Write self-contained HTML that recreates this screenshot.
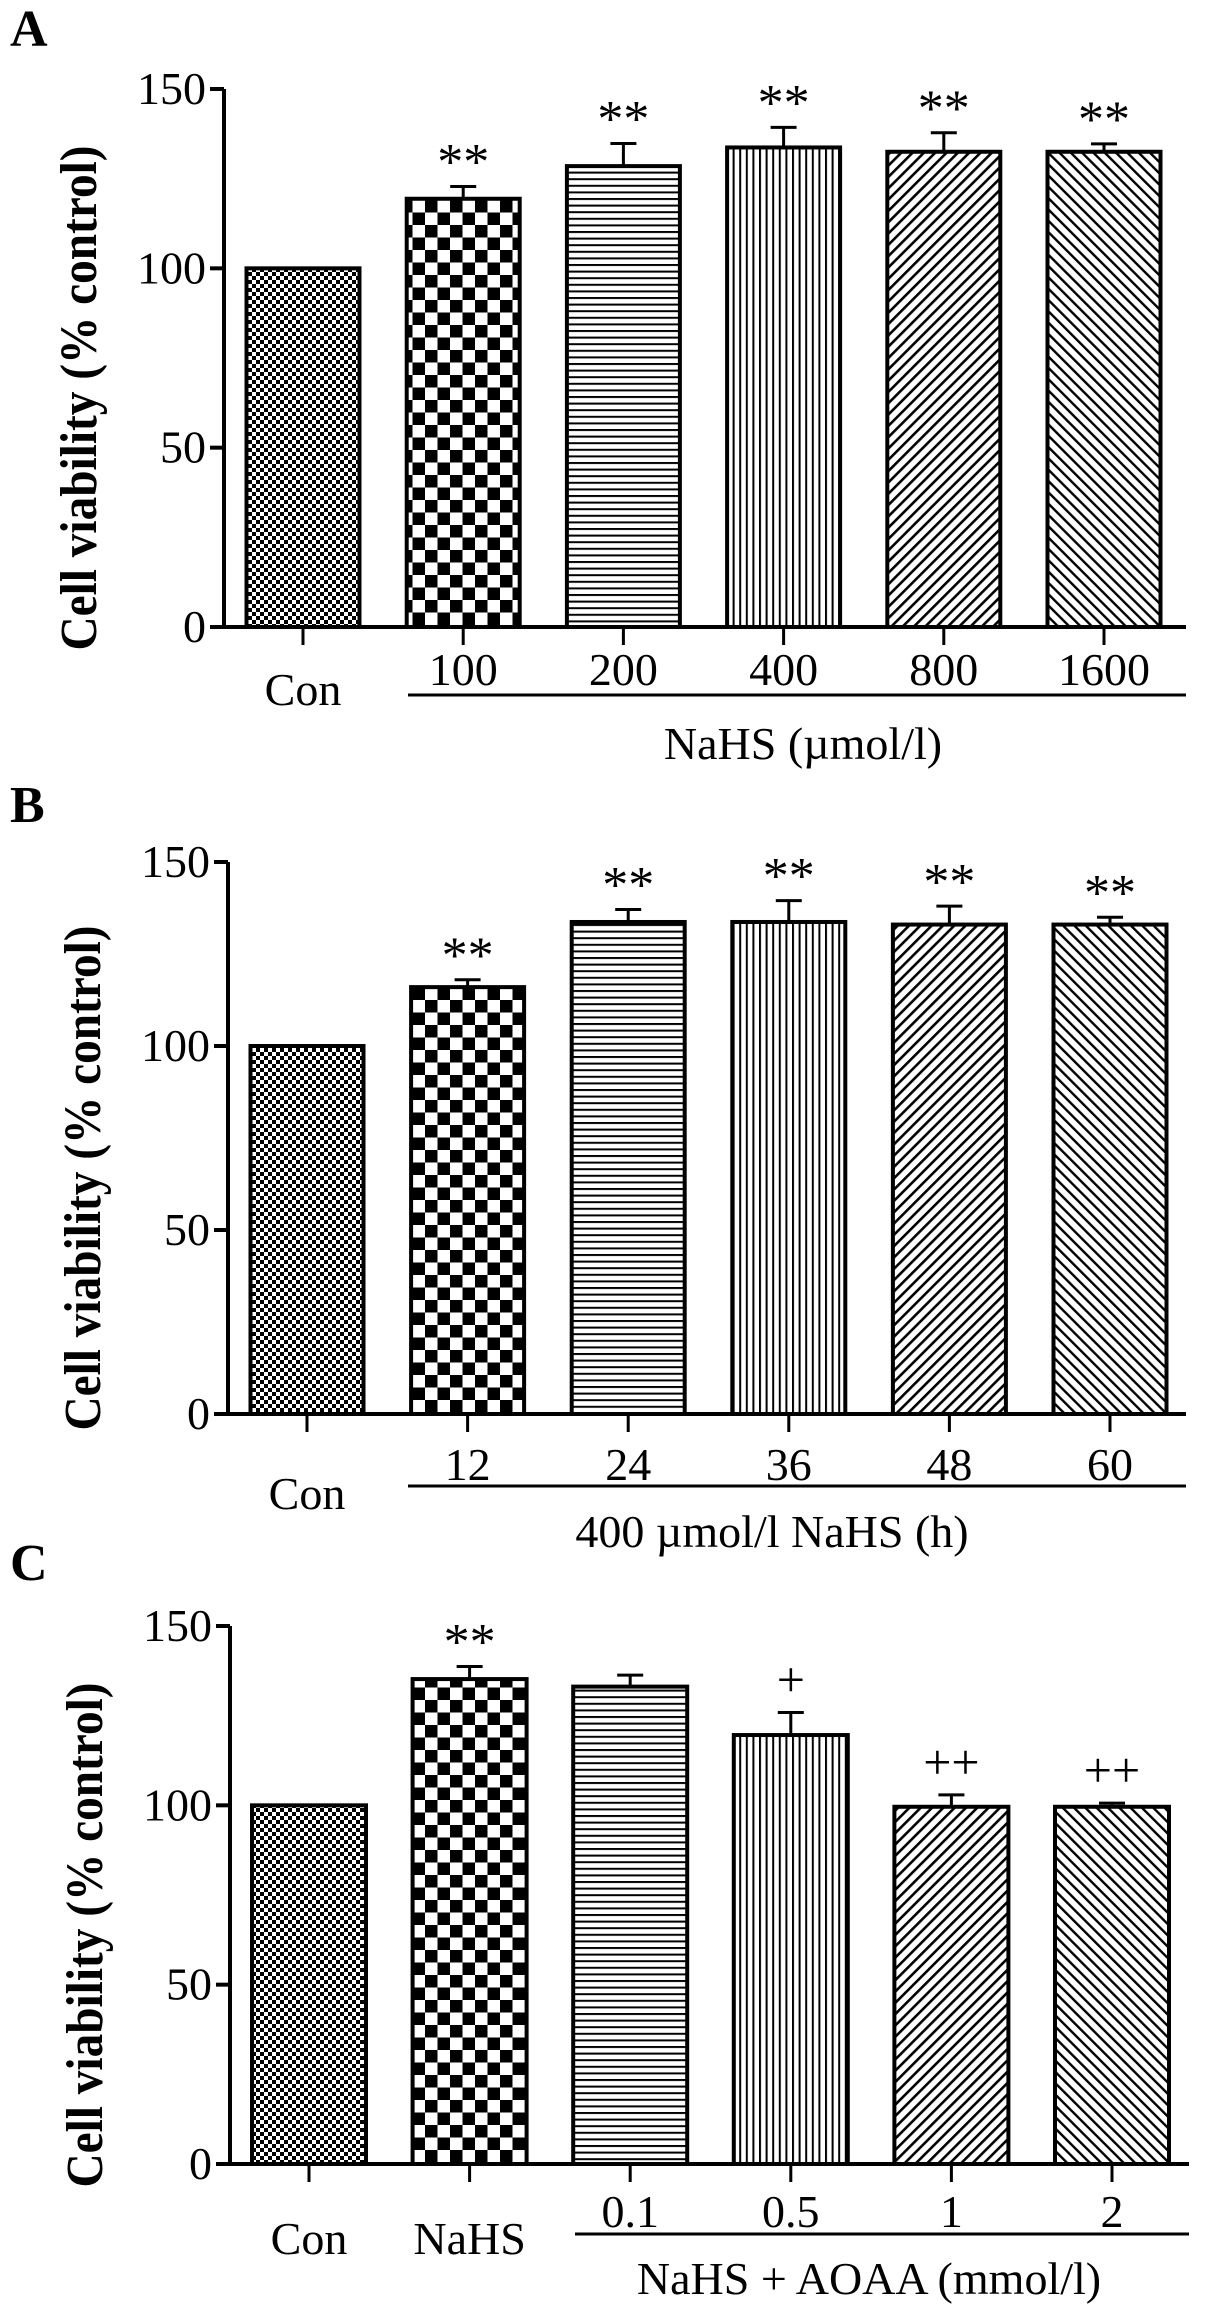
<!DOCTYPE html>
<html><head><meta charset="utf-8"><style>
html,body{margin:0;padding:0;background:#fff}
svg{display:block}
text{font-family:"Liberation Serif",serif;fill:#000}
</style></head><body>
<svg id="fig" width="1205" height="2321" viewBox="0 0 1205 2321" xmlns="http://www.w3.org/2000/svg">
<defs>
<pattern id="pFine" width="8" height="8" patternUnits="userSpaceOnUse"><rect width="8" height="8" fill="#fff"/><rect width="4" height="4" fill="#000"/><rect x="4" y="4" width="4" height="4" fill="#000"/></pattern>
<pattern id="pCheck" width="25" height="25" patternUnits="userSpaceOnUse"><rect width="25" height="25" fill="#fff"/><rect width="12.5" height="12.5" fill="#000"/><rect x="12.5" y="12.5" width="12.5" height="12.5" fill="#000"/></pattern>
<pattern id="pHoriz" width="10" height="6.6" patternUnits="userSpaceOnUse"><rect width="10" height="6.6" fill="#fff"/><rect y="0" width="10" height="2" fill="#000"/></pattern>
<pattern id="pVert" width="6.6" height="10" patternUnits="userSpaceOnUse"><rect width="6.6" height="10" fill="#fff"/><rect x="0" width="2" height="10" fill="#000"/></pattern>
<pattern id="pDiagR" width="8" height="8" patternUnits="userSpaceOnUse" patternTransform="rotate(45)"><rect width="8" height="8" fill="#fff"/><rect width="2.6" height="8" fill="#000"/></pattern>
<pattern id="pDiagL" width="8" height="8" patternUnits="userSpaceOnUse" patternTransform="rotate(-45)"><rect width="8" height="8" fill="#fff"/><rect width="2.4" height="8" fill="#000"/></pattern>
</defs>
</svg>
<script>
// Panel A
const catsA = ["Con","100","200","400","800","1600"];
const valsA = [100,119.4,128.5,133.7,132.5,132.5];
const errsA = [0,3.4,6.3,5.6,5.3,2.2];
const marksA = ["","**","**","**","**","**"];
// Panel B
const catsB = ["Con","12","24","36","48","60"];
const valsB = [100,116,133.7,133.7,133,133];
const errsB = [0,2,3.4,5.8,5,2];
const marksB = ["","**","**","**","**","**"];
// Panel C
const catsC = ["Con","NaHS","0.1","0.5","1","2"];
const valsC = [100,135.2,133.1,119.6,99.6,99.6];
const errsC = [0,3.5,3.2,6.3,3.3,1];
const marksC = ["","**","","+","++","++"];
const yTicks = [0,50,100,150];
const fills = ["pFine","pCheck","pHoriz","pVert","pDiagR","pDiagL"];

const svg = document.getElementById('fig');
const NS = "http://www.w3.org/2000/svg";
function mk(tag, attrs, parent){ const e=document.createElementNS(NS,tag); for(const k in attrs) e.setAttribute(k,attrs[k]); (parent||svg).appendChild(e); return e; }

function panel(p){
  const g = mk('g',{});
  
  
  const yS = v => p.y0 - (v/150)*(p.y0-p.y150);
  const xS = i => p.x0c + i*p.step;
  const lt = mk('text',{x:10,y:p.letterY,'font-size':52,'font-weight':'bold'},g); lt.textContent=p.id;
  
  
  p.cats.forEach((c,i)=>{
    const v=p.vals[i], x=xS(i)-p.bw/2, yt=yS(v);
    if(p.errs[i]>0){
      const ye=yS(v+p.errs[i]);
      const el=mk('path',{d:`M${xS(i)} ${yt} V${ye} M${xS(i)-13} ${ye} H${xS(i)+13}`,stroke:'#000','stroke-width':3,fill:'none'},g);
      
      
    }
    const r=mk('rect',{x:x,y:yt,width:p.bw,height:p.y0-yt,fill:`url(#${fills[i]})`,stroke:'#000','stroke-width':4},g);
    
    
    if(p.marks[i]){
      const ye=yS(v+p.errs[i]);
      const star = p.marks[i][0]=='*';
      const t=mk('text',{x:xS(i),y:star?ye-8:ye-16,'font-size':star?52:50,'text-anchor':'middle'},g);
      if(star) t.setAttribute('dy','0.55em');
      if(star) t.setAttribute('y',ye-36);
      t.textContent=p.marks[i];
      
      
    }
    const tk=mk('line',{x1:xS(i),x2:xS(i),y1:p.y0,y2:p.y0+18,stroke:'#000','stroke-width':3},g);
    
    
    const low = i < p.nLow;
    const tl=mk('text',{x:xS(i),y:low?p.lowY:p.tickY,'font-size':46,'text-anchor':'middle'},g);
    tl.textContent=c;
    
    
  });
  const ax=mk('path',{d:`M${p.axX} ${p.y150} V${p.y0} H${p.xEnd}`,stroke:'#000','stroke-width':4,fill:'none'},g);
  
  
  yTicks.forEach(v=>{
    const l=mk('line',{x1:p.axX-14,x2:p.axX,y1:yS(v),y2:yS(v),stroke:'#000','stroke-width':4},g);
    
    
    const t=mk('text',{x:p.axX-18,y:yS(v)+15,'font-size':46,'text-anchor':'end'},g);
    t.textContent=v;
    
    
  });
  const yt=mk('text',{x:0,y:0,'font-size':52,'font-weight':'bold','text-anchor':'middle',transform:`translate(${p.axX-128},${(p.y0+p.y150)/2+40}) rotate(-90)`,textLength:505,lengthAdjust:'spacingAndGlyphs'},g);
  yt.textContent='Cell viability (% control)';
  
  
  const gl=mk('line',{x1:p.grpX1,x2:p.xEnd,y1:p.grpY,y2:p.grpY,stroke:'#000','stroke-width':3},g);
  
  
  const gt=mk('text',{x:p.titleX,y:p.titleY,'font-size':46,'text-anchor':'middle'},g);
  gt.textContent=p.title;
  
  
}

panel({id:'A',cats:catsA,vals:valsA,errs:errsA,marks:marksA,letterY:46,y150:89,y0:627,axX:224,xEnd:1186,x0c:303,step:160.2,bw:113,nLow:1,tickY:685,lowY:705,grpX1:408,grpY:695,title:'NaHS (µmol/l)',titleX:803,titleY:759});
panel({id:'B',cats:catsB,vals:valsB,errs:errsB,marks:marksB,letterY:822,y150:862,y0:1414,axX:228,xEnd:1186,x0c:307,step:160.6,bw:113,nLow:1,tickY:1480,lowY:1509,grpX1:408,grpY:1486,title:'400 µmol/l  NaHS (h)',titleX:772,titleY:1547});
panel({id:'C',cats:catsC,vals:valsC,errs:errsC,marks:marksC,letterY:1580,y150:1626,y0:2164,axX:230,xEnd:1189,x0c:309,step:160.6,bw:114,nLow:2,tickY:2227,lowY:2254,grpX1:575,grpY:2234,title:'NaHS + AOAA (mmol/l)',titleX:869,titleY:2294});
</script>
</body></html>
